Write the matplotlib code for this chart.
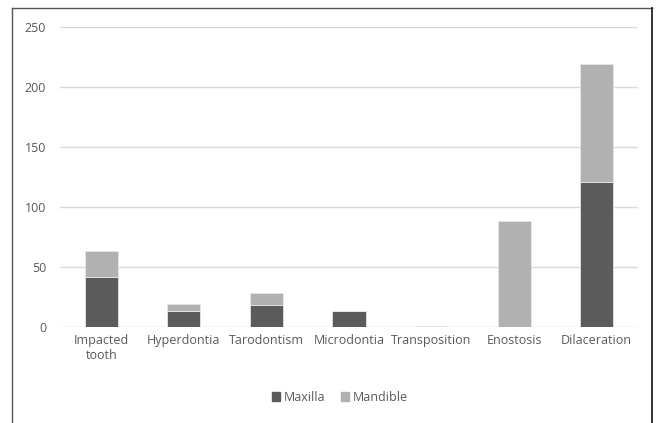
import matplotlib
matplotlib.use("Agg")
import matplotlib.pyplot as plt
from matplotlib.lines import Line2D
from matplotlib.patches import Patch
import numpy as np

categories = ["Impacted\ntooth", "Hyperdontia", "Tarodontism", "Microdontia",
              "Transposition", "Enostosis", "Dilaceration"]
maxilla = [42, 13, 18, 13, 0, 0, 121]
mandible = [21, 6, 10, 0, 1, 88, 98]
yticks = [0, 50, 100, 150, 200, 250]

plt.rcParams['font.family'] = ['Open Sans', 'DejaVu Sans']

fig = plt.figure(figsize=(6.59, 4.23), dpi=100)
ax = fig.add_axes([60/659, 1-327/423, 578/659, 300/423])

x = np.arange(len(categories))
c_max = "#5b5b5b"
c_man = "#b1b1b1"
ax.bar(x, maxilla, width=0.4, color=c_max, edgecolor="#e6e6e6", linewidth=0.6, zorder=3)
ax.bar(x, mandible, width=0.4, bottom=maxilla, color=c_man, edgecolor="#e6e6e6", linewidth=0.6, zorder=3)

ax.set_ylim(0, 250)
ax.set_xlim(-0.5, len(categories) - 0.5)
ax.set_yticks(yticks)
ax.set_xticks(x)
ax.set_xticklabels(categories)
ax.grid(axis='y', color="#d9d9d9", linewidth=1, zorder=0)
for s in ax.spines.values():
    s.set_visible(False)
ax.tick_params(length=0, colors="#595959", labelsize=9)
ax.tick_params(axis='y', pad=10)
ax.tick_params(axis='x', pad=5)

handles = [Patch(color=c_max, label="Maxilla"), Patch(color=c_man, label="Mandible")]
fig.legend(handles=handles, loc='center', bbox_to_anchor=(340/659, 1-397/423), ncol=2,
           frameon=False, fontsize=9, labelcolor="#595959", handlelength=0.7, handleheight=0.7,
           handletextpad=0.3, columnspacing=1.2)

# outer frame
fc = "#555555"
fig.add_artist(Line2D([12/659, 12/659], [0, 1-8/423], transform=fig.transFigure, color=fc, lw=1))
fig.add_artist(Line2D([12/659, 652/659], [1-8/423, 1-8/423], transform=fig.transFigure, color=fc, lw=1))
fig.add_artist(Line2D([652/659, 652/659], [0, 1-8/423], transform=fig.transFigure, color="#222222", lw=1.3))

fig.savefig("out.png", dpi=100)
